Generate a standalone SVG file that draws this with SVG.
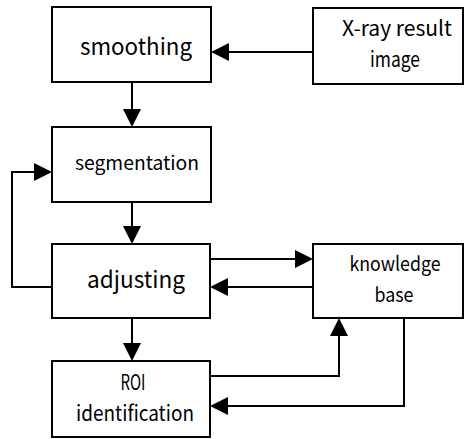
<svg xmlns="http://www.w3.org/2000/svg" width="464" height="439" viewBox="0 0 464 439">
<style>
.box{fill:#fff;stroke:#000;stroke-width:2}
.ln{fill:none;stroke:#000;stroke-width:2}
.ah{fill:#000}
text{font-family:"Noto Sans CJK JP","Liberation Sans",sans-serif;fill:#000;text-anchor:middle}
.big{font-size:23px}
.mid{font-size:19px}
.m2{font-size:21px}
.m3{font-size:20px}
</style>
<rect width="464" height="439" fill="#fff"/>
<g id="connectors">
<path class="ln" d="M313,52 H226"/>
<polygon class="ah" points="211,52 229,43 229,61"/>
<path class="ln" d="M132,82 V112"/>
<polygon class="ah" points="132,127 123,109 141,109"/>
<path class="ln" d="M132,202 V229"/>
<polygon class="ah" points="132,244 123,226 141,226"/>
<path class="ln" d="M132,318 V346"/>
<polygon class="ah" points="132,361 123,343 141,343"/>
<path class="ln" d="M52,287 H12 V172 H37"/>
<polygon class="ah" points="52,172 34,163 34,181"/>
<path class="ln" d="M210,259 H298"/>
<polygon class="ah" points="313,259 295,250 295,268"/>
<path class="ln" d="M313,287 H225"/>
<polygon class="ah" points="210,287 228,278 228,296"/>
<path class="ln" d="M210,376 H339 V333"/>
<polygon class="ah" points="339,318 330,336 348,336"/>
<path class="ln" d="M404,318 V406 H225"/>
<polygon class="ah" points="210,406 228,397 228,415"/>
</g>
<g id="smoothing">
<rect class="box" x="52" y="7" width="159" height="75"/>
<text class="big" x="136" y="55" textLength="112" lengthAdjust="spacingAndGlyphs">smoothing</text>
</g>
<g id="xray">
<rect class="box" x="313" y="8" width="150" height="76"/>
<text class="m2" x="397" y="36" textLength="110" lengthAdjust="spacingAndGlyphs">X-ray result</text>
<text class="m2" x="395" y="67" textLength="50" lengthAdjust="spacingAndGlyphs">image</text>
</g>
<g id="segmentation">
<rect class="box" x="52" y="127" width="159" height="75"/>
<text class="mid" x="137" y="170" textLength="124" lengthAdjust="spacingAndGlyphs">segmentation</text>
</g>
<g id="adjusting">
<rect class="box" x="52" y="244" width="158" height="74"/>
<text class="big" x="136" y="288" textLength="98" lengthAdjust="spacingAndGlyphs">adjusting</text>
</g>
<g id="knowledge">
<rect class="box" x="313" y="244" width="150" height="74"/>
<text class="m3" x="395" y="271" textLength="91" lengthAdjust="spacingAndGlyphs">knowledge</text>
<text class="m3" x="394" y="302" textLength="39" lengthAdjust="spacingAndGlyphs">base</text>
</g>
<g id="roi">
<rect class="box" x="52" y="361" width="158" height="76"/>
<text class="m2" x="133" y="390" textLength="25" lengthAdjust="spacingAndGlyphs">ROI</text>
<text class="m2" x="135" y="421" textLength="118" lengthAdjust="spacingAndGlyphs">identification</text>
</g>
</svg>
